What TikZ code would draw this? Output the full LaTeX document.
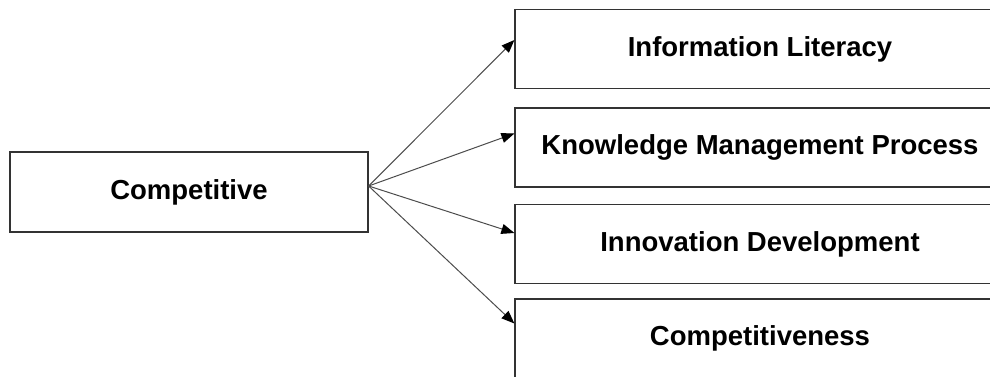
\documentclass[tikz,border=0pt]{standalone}
\usepackage{fontspec}
\setmainfont{Liberation Sans}
\usetikzlibrary{arrows.meta}
\begin{document}
\begin{tikzpicture}[x=1pt,y=-1pt,
    box/.style={draw=black!80, line width=1.2pt, rectangle, inner sep=0pt,
      font=\fontsize{27.5}{33}\selectfont\bfseries},
    leftbox/.style={box, minimum width=358pt, minimum height=80pt},
    rightbox/.style={box, minimum width=490pt, minimum height=79pt},
    link/.style={draw=black!70, line width=1pt, -{Triangle[length=13pt,width=10pt,color=black]}}]
                \useasboundingbox (0,0) rectangle (990,377);
                \clip (0,0) rectangle (990,377);

                \node[leftbox] (comp) at (189,192) {Competitive};
                \node[rightbox] (info) at (760,49) {Information Literacy};
                \node[rightbox] (kmp) at (760,147.5) {Knowledge Management Process};
                \node[rightbox] (innov) at (760,244) {Innovation Development};
                \node[rightbox] (compness) at (760,338.5) {Competitiveness};

                \coordinate (hub) at ([yshift=6pt]comp.east);

                \draw[link] (hub) -- ([yshift=9pt]info.west);
                \draw[link] (hub) -- ([yshift=14pt]kmp.west);
                \draw[link] (hub) -- ([yshift=11pt]innov.west);
                \draw[link] (hub) -- ([yshift=15pt]compness.west);
            \end{tikzpicture}
\end{document}
